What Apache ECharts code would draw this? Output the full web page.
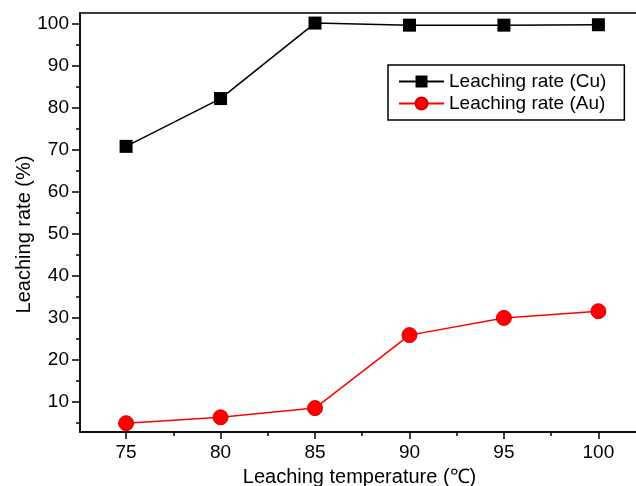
<!DOCTYPE html>
<html>
<head>
<meta charset="utf-8">
<script src="https://cdn.jsdelivr.net/npm/echarts@6/dist/echarts.min.js"></script>
<style>
  html, body { margin: 0; padding: 0; background: #fff; }
  #chart { width: 636px; height: 486px; }
</style>
</head>
<body>
<div id="chart"></div>
<script>
const temps = [75, 80, 85, 90, 95, 100]
const cuRate = [70.8, 82.2, 100.2, 99.7, 99.7, 99.8]
const auRate = [4.8, 6.2, 8.4, 25.8, 29.9, 31.5]

const xMajor = [75, 80, 85, 90, 95, 100]
const xMinor = [77.5, 82.5, 87.5, 92.5, 97.5]
const yMajor = [10, 20, 30, 40, 50, 60, 70, 80, 90, 100]
const yMinor = [5, 15, 25, 35, 45, 55, 65, 75, 85, 95]

const font = "'Liberation Sans', Arial, sans-serif"
const xRange = { min: 72.56, max: 102.15 }
const yRange = { min: 2.7, max: 102.6 }

const chart = echarts.init(document.getElementById("chart"))

// second axis on the same side, only for the short minor ticks
const minorAxis = (range, values, position) => ({
  type: "value",
  position,
  ...range,
  axisLine: { show: false },
  axisTick: { show: true, customValues: values, length: 4, lineStyle: { color: "#000", width: 1.5 } },
  axisLabel: { show: false },
  splitLine: { show: false }
})

chart.setOption({
  animation: false,
  textStyle: { fontFamily: font },
  grid: {
    left: 80, top: 13, right: -3, bottom: 54,
    containLabel: false,
    outerBoundsMode: "none",
    show: true, borderColor: "#000", borderWidth: 1.5
  },
  legend: {
    orient: "vertical",
    left: 388,
    top: 65,
    padding: [7, 18, 7, 10],
    borderColor: "#000",
    borderWidth: 1.5,
    itemWidth: 45,
    itemHeight: 15,
    itemGap: 3,
    textStyle: { fontFamily: font, fontSize: 19, color: "#000" },
    data: ["Leaching rate (Cu)", "Leaching rate (Au)"]
  },
  xAxis: [
    {
      type: "value",
      position: "bottom",
      ...xRange,
      name: "Leaching temperature (℃)",
      nameLocation: "middle",
      nameGap: 35,
      nameMoveOverlap: false,
      nameTextStyle: { fontFamily: font, fontSize: 20, color: "#000" },
      axisLine: { show: true, lineStyle: { color: "#000", width: 1.5 } },
      axisTick: { show: true, customValues: xMajor, length: 7, lineStyle: { color: "#000", width: 1.5 } },
      axisLabel: { customValues: xMajor, margin: 11, fontFamily: font, fontSize: 19, color: "#000" },
      splitLine: { show: false }
    },
    minorAxis(xRange, xMinor, "bottom")
  ],
  yAxis: [
    {
      type: "value",
      position: "left",
      ...yRange,
      name: "Leaching rate (%)",
      nameLocation: "middle",
      nameGap: 46,
      nameMoveOverlap: false,
      nameTextStyle: { fontFamily: font, fontSize: 20, color: "#000", padding: [0, 24, 0, 0] },
      axisLine: { show: true, lineStyle: { color: "#000", width: 1.5 } },
      axisTick: { show: true, customValues: yMajor, length: 8, lineStyle: { color: "#000", width: 1.5 } },
      axisLabel: { customValues: yMajor, margin: 11, fontFamily: font, fontSize: 19, color: "#000" },
      splitLine: { show: false }
    },
    minorAxis(yRange, yMinor, "left")
  ],
  series: [
    {
      name: "Leaching rate (Cu)",
      type: "line",
      data: temps.map((t, i) => [t, cuRate[i]]),
      symbol: "rect",
      symbolSize: 13,
      itemStyle: { color: "#000" },
      lineStyle: { color: "#000", width: 1.5 }
    },
    {
      name: "Leaching rate (Au)",
      type: "line",
      data: temps.map((t, i) => [t, auRate[i]]),
      symbol: "circle",
      symbolSize: 15,
      itemStyle: { color: "#ff0000", borderColor: "#d00000", borderWidth: 1 },
      lineStyle: { color: "#ff0000", width: 1.5 }
    }
  ]
})
</script>
</body>
</html>
